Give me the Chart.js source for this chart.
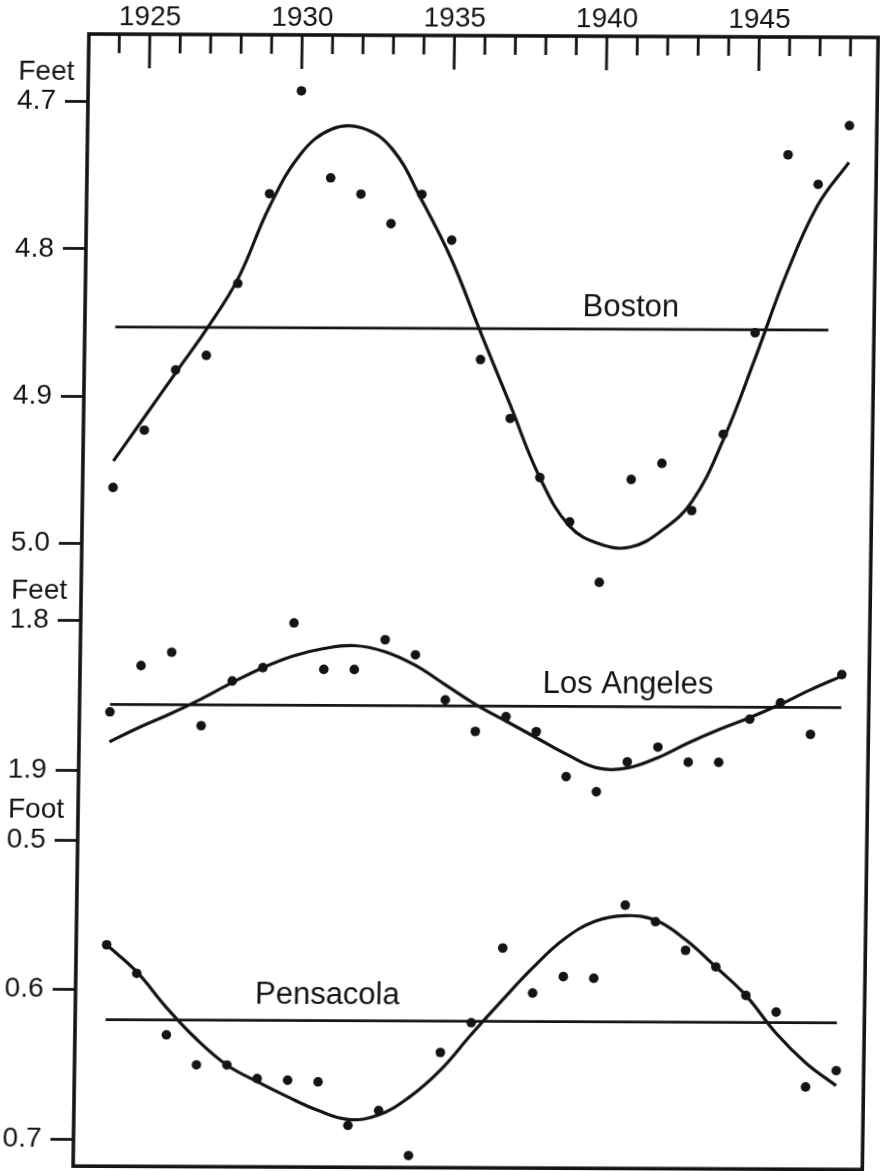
<!DOCTYPE html>
<html>
<head>
<meta charset="utf-8">
<title>Mean sea level: Boston, Los Angeles, Pensacola</title>
<script src="https://cdn.jsdelivr.net/npm/chart.js@4.4.1/dist/chart.umd.min.js"></script>
<style>
  html, body { margin: 0; padding: 0; background: #fff; overflow: hidden; }
  #wrap { width: 882px; height: 1171px; }
  /* the printed figure is scanned a little out of square */
  #tideChart { transform: skew(-0.8deg, 0.25deg); transform-origin: 88px 100px; }
</style>
</head>
<body>
<div id="wrap"><canvas id="tideChart" width="882" height="1171"></canvas></div>
<script>
const years = [1924, 1925, 1926, 1927, 1928, 1929, 1930, 1931, 1932, 1933, 1934, 1935, 1936,
               1937, 1938, 1939, 1940, 1941, 1942, 1943, 1944, 1945, 1946, 1947, 1948];

// yearly means (dots)
const bostonObs = [4.962, 4.923, 4.882, 4.872, 4.823, 4.762, 4.692, 4.751, 4.762, 4.782, 4.762, 4.793, 4.874,
                   4.914, 4.954, 4.984, 5.025, 4.955, 4.944, 4.976, 4.924, 4.855, 4.734, 4.754, 4.714];
const laObs = [1.861, 1.830, 1.821, 1.870, 1.840, 1.831, 1.801, 1.832, 1.832, 1.812, 1.822, 1.852, 1.873,
               1.863, 1.873, 1.903, 1.913, 1.893, 1.883, 1.893, 1.893, 1.864, 1.853, 1.874, 1.834];
const penObs = [0.570, 0.589, 0.630, 0.650, 0.650, 0.659, 0.660, 0.661, 0.690, 0.680, 0.710, 0.641, 0.621,
                0.571, 0.601, 0.590, 0.591, 0.542, 0.553, 0.572, 0.583, 0.602, 0.613, 0.663, 0.652];

// smooth curves
const bostonFit = [4.944, 4.914, 4.884, 4.854, 4.820, 4.771, 4.735, 4.718, 4.717, 4.731, 4.766, 4.806, 4.856,
                   4.905, 4.954, 4.987, 4.999, 5.001, 4.990, 4.970, 4.928, 4.873, 4.815, 4.768, 4.739];
const laFit = [1.881, 1.871, 1.862, 1.852, 1.841, 1.831, 1.823, 1.818, 1.816, 1.820, 1.829, 1.842, 1.855,
               1.866, 1.877, 1.888, 1.897, 1.897, 1.890, 1.880, 1.871, 1.863, 1.854, 1.844, 1.835];
const penFit = [0.570, 0.588, 0.612, 0.633, 0.650, 0.661, 0.671, 0.680, 0.686, 0.683, 0.671, 0.653, 0.629,
                0.606, 0.584, 0.565, 0.553, 0.549, 0.552, 0.565, 0.583, 0.602, 0.627, 0.647, 0.662];

// mean level lines: [level, first year, last year]
const bostonMean = [4.853, 1924, 1947.4];
const laMean = [1.856, 1924, 1948];
const penMean = [0.620, 1924, 1948];

const bostonTicks = [4.7, 4.8, 4.9, 5.0];
const laTicks = [1.8, 1.9];
const penTicks = [0.5, 0.6, 0.7];

const stationNames = ['Boston', 'Los Angeles', 'Pensacola'];
const unitWords = ['Feet', 'Feet', 'Foot'];
const nameYears = [1939.33, 1938.19, 1928.89];
const nameLevels = [4.844, 1.847, 0.609];
const axisIds = ['yBoston', 'yLA', 'yPen'];

const ink = '#141414';
const fontFamily = "'Liberation Sans', Arial, sans-serif";

function toPoints(xs, ys) {
    return ys.map((v, i) => ({x: xs[i], y: v}));
}
function meanLine(m) {
    return [{x: m[1], y: m[0]}, {x: m[2], y: m[0]}];
}
function curve(data, axis) {
    return {data: data, yAxisID: axis, showLine: true, tension: 0.4, borderColor: ink,
            borderWidth: 3.2, pointRadius: 0, fill: false, clip: false};
}
function level(data, axis) {
    return {data: data, yAxisID: axis, showLine: true, tension: 0, borderColor: ink,
            borderWidth: 2.8, pointRadius: 0, fill: false, clip: false};
}
function dots(data, axis) {
    // a few dots spill just past their own band, so no clipping
    return {data: data, yAxisID: axis, showLine: false, pointRadius: 4.8,
            pointBackgroundColor: ink, pointBorderWidth: 0, clip: false};
}
function yAxis(ticks, min, max, weight, order) {
    return {
        type: 'linear', position: 'left', stack: 'tide', stackWeight: weight, weight: order,
        reverse: true, min: min, max: max,
        afterBuildTicks: s => { s.ticks = ticks.map(v => ({value: v})); },
        afterFit: s => {
            s.width = 88;
            // labels sit well inside each band, no extra room needed
            s.paddingTop = 0;
            s.paddingBottom = 0;
        },
        grid: {drawOnChartArea: false, drawTicks: true, tickLength: 23, tickWidth: 2.8, tickColor: ink, color: ink},
        border: {display: false},
        ticks: {padding: 9, color: ink, font: {family: fontFamily, size: 28},
                callback: v => Number(v).toFixed(1)}
    };
}

const tideMarks = {
    id: 'tideMarks',
    afterDraw(chart) {
        const {ctx, chartArea: a, scales} = chart;
        ctx.save();
        ctx.strokeStyle = ink;
        ctx.lineWidth = 3.6;
        ctx.strokeRect(a.left, a.top, a.right - a.left, a.bottom - a.top);
        // year ticks hang down inside the top edge
        ctx.lineWidth = 2.8;
        years.forEach(yr => {
            const x = scales.x.getPixelForValue(yr);
            ctx.beginPath();
            ctx.moveTo(x, a.top);
            ctx.lineTo(x, a.top + (yr % 5 === 0 ? 34 : 19));
            ctx.stroke();
        });
        ctx.fillStyle = ink;
        ctx.textBaseline = 'alphabetic';
        ctx.textAlign = 'left';
        axisIds.forEach((id, i) => {
            const s = scales[id];
            ctx.font = '28px ' + fontFamily;
            ctx.fillText(unitWords[i], 18, s.getPixelForValue(s.ticks[0].value) - 22);
            ctx.font = '31px ' + fontFamily;
            ctx.fillText(stationNames[i], scales.x.getPixelForValue(nameYears[i]), s.getPixelForValue(nameLevels[i]));
        });
        ctx.restore();
    }
};

const ctx = document.getElementById('tideChart').getContext('2d');
const myChart = new Chart(ctx, {
    type: 'scatter',
    data: {
        datasets: [
            curve(toPoints(years, bostonFit), 'yBoston'),
            level(meanLine(bostonMean), 'yBoston'),
            dots(toPoints(years, bostonObs), 'yBoston'),
            curve(toPoints(years, laFit), 'yLA'),
            level(meanLine(laMean), 'yLA'),
            dots(toPoints(years, laObs), 'yLA'),
            curve(toPoints(years, penFit), 'yPen'),
            level(meanLine(penMean), 'yPen'),
            dots(toPoints(years, penObs), 'yPen')
        ]
    },
    options: {
        responsive: false,
        animation: false,
        devicePixelRatio: 1,
        layout: {padding: {top: 0, right: 4, bottom: 0, left: 0}},
        plugins: {legend: {display: false}, tooltip: {enabled: false}},
        scales: {
            x: {
                type: 'linear', position: 'top', min: 1923, max: 1948.9,
                afterBuildTicks: s => { s.ticks = years.map(v => ({value: v})); },
                afterFit: s => { s.height = 34; s.paddingLeft = 0; s.paddingRight = 0; },
                grid: {display: false, drawTicks: false},
                border: {display: false},
                ticks: {autoSkip: false, maxRotation: 0, padding: 0, color: ink,
                        font: {family: fontFamily, size: 28},
                        callback: v => (v % 5 === 0 ? String(v) : '')}
            },
            yBoston: yAxis(bostonTicks, 4.654, 5.024, 546, 3),
            yLA: yAxis(laTicks, 1.772, 1.9187, 220, 2),
            yPen: yAxis(penTicks, 0.472, 0.718, 369, 1)
        }
    },
    plugins: [tideMarks]
});
</script>
</body>
</html>
